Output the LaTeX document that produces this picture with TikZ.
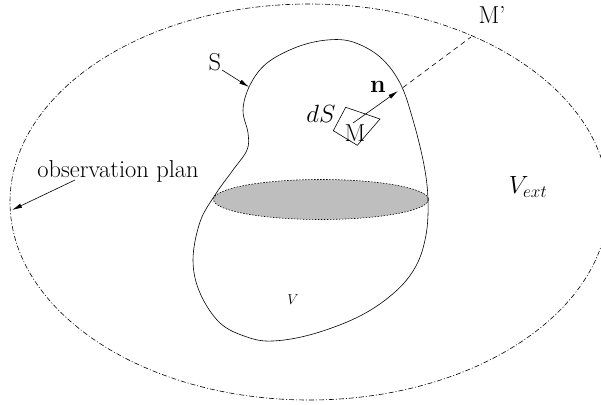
\documentclass[tikz,border=0pt]{standalone}
\usetikzlibrary{arrows.meta}
\begin{document}
\begin{tikzpicture}[x=1pt,y=-1pt,
  lbl/.style={inner sep=0pt,font=\fontsize{24.5}{28}\selectfont},
  arr/.style={line width=0.6pt,-{Latex[length=10pt,width=4.5pt]}},
  thin line/.style={line width=0.6pt}]
\useasboundingbox (0,0) rectangle (601,404);
% outer observation ellipse
\draw[line width=0.6pt,dash pattern=on 5pt off 2pt on 1pt off 2pt] (309.3,202) ellipse [x radius=299.3,y radius=198];
% shaded section
\draw[fill={rgb,255:red,190;green,190;blue,190},line width=0.6pt,dash pattern=on 1.5pt off 1.5pt] (321,199.5) ellipse [x radius=107.5,y radius=20];
% surface S
\draw[thin line] plot[smooth cycle,tension=0.6] coordinates {
 (250,85) (267,63) (297,47) (327,40) (353,42) (380,57) (400,83) (413,120)
 (424,165) (428,200) (426,235) (416,266) (395,292) (360,316) (313,334) (273,341)
 (247,337) (220,323) (200,293) (193,260) (200,222) (215,195) (233,170) (247,150) (248,133) (243,110)};
% dS element
\draw[thin line] (345.7,107.3) -- (380,119) -- (357.3,145.3) -- (333.3,130.7) -- cycle;
% coordinates
\coordinate (sS) at (249,87);
\coordinate (obs) at (12,210);
\coordinate (obsstart) at (75,180);
\coordinate (Sstart) at (222,70);
\coordinate (Mpt) at (353,123);
\coordinate (ntip) at (398,91);
\coordinate (exit) at (403,87.5);
\coordinate (Mend) at (471,37);
% labels
\node[lbl] (Slab) at (215,62) {S};
\node[lbl] (obslab) at (118,171) {observation plan};
\node[lbl] (nlab) at (378,87) {$\mathbf{n}$};
\node[lbl] (dSlab) at (321,114) {$dS$};
\node[lbl] (Mlab) at (355,133) {M};
\node[lbl] (Mp) at (492,15) {M'};
\node[lbl] (Vext) at (528,187) {$V_{ext}$};
\node[inner sep=0pt,font=\fontsize{15}{17}\selectfont] (Vlab) at (293,300) {$V$};
% connectors
\draw[arr] (Sstart) -- (sS);
\draw[arr] (obsstart) -- (obs);
\draw[arr] (Mpt) -- (ntip);
\draw[thin line,dash pattern=on 5pt off 4pt] (exit) -- (Mend);
\end{tikzpicture}
\end{document}
